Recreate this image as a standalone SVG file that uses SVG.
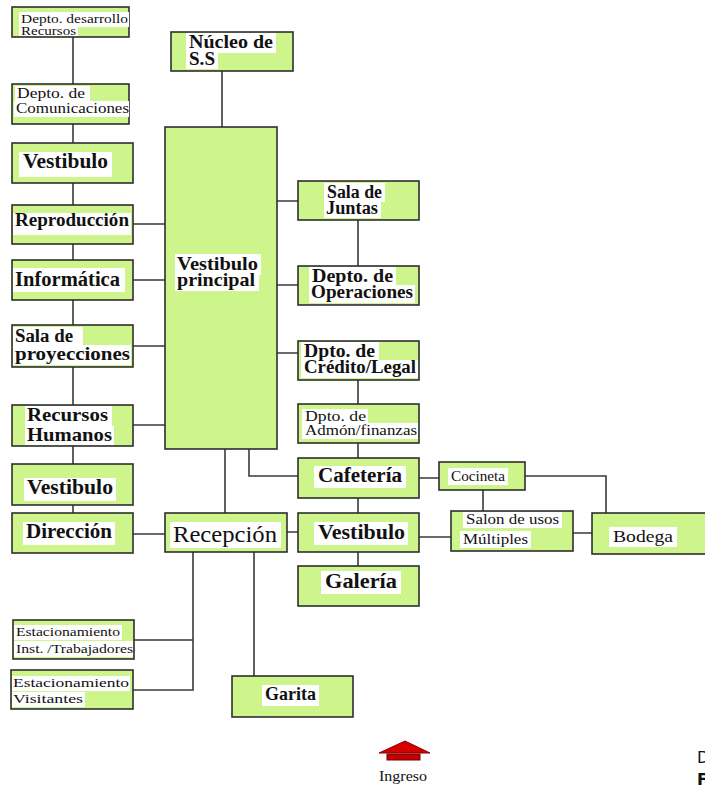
<svg xmlns="http://www.w3.org/2000/svg" width="705" height="786" viewBox="0 0 705 786">
  <style>
    .box { fill: #cdf58c; stroke: #2e2e2e; stroke-width: 1.6; }
    .hl { fill: #ffffff; }
    .ln { fill: none; stroke: #3a3a3a; stroke-width: 1.6; }
    .t { font-family: "Liberation Serif", "Times New Roman", serif; fill: #111; }
    .b { font-weight: bold; }
    .s13 { font-size: 13px; }
    .s14 { font-size: 14px; }
    .s15 { font-size: 15px; }
    .s17 { font-size: 17px; }
    .s18 { font-size: 18px; }
    .s19 { font-size: 19px; }
    .s20 { font-size: 20px; }
    .s23 { font-size: 23px; }
    .note { font-family: "DejaVu Sans", "Liberation Sans", sans-serif; font-size: 16px; fill: #111; }
  </style>
  <rect width="705" height="786" fill="#ffffff"/>

  <g id="connectors">
    <path class="ln" d="M73 37V84 M73 124V143 M73 183V205 M73 244V260 M73 300V325 M73 367V405 M73 446V464 M73 505V513"/>
    <path class="ln" d="M133 224H165 M133 280H165 M133 346H165 M133 425H165 M133 534H165"/>
    <path class="ln" d="M222 71V127 M277 201H298 M277 285H298 M277 353H298"/>
    <path class="ln" d="M358 220V266 M358 380V404 M358 443V458 M358 498V513 M358 552V566"/>
    <path class="ln" d="M249 449V476H298 M225 449V513 M287 532H298"/>
    <path class="ln" d="M419 478H439 M419 537H451 M483 490V511 M525 476H606V513 M573 533H592"/>
    <path class="ln" d="M193 552V690H133 M134 640H193 M254 552V676"/>
  </g>

  <g id="depto-desarrollo">
    <rect class="box" x="12" y="7" width="117" height="30"/>
    <rect class="hl" x="19" y="12" width="110" height="15"/>
    <rect class="hl" x="19" y="25" width="59" height="11"/>
    <text class="t s13" x="21" y="23" textLength="107" lengthAdjust="spacingAndGlyphs">Depto. desarrollo</text>
    <text class="t s13" x="21" y="35" textLength="55" lengthAdjust="spacingAndGlyphs">Recursos</text>
  </g>
  <g id="depto-comunicaciones">
    <rect class="box" x="12" y="84" width="117" height="40"/>
    <rect class="hl" x="15" y="86" width="75" height="16"/>
    <rect class="hl" x="14" y="101" width="115" height="16"/>
    <text class="t s15" x="17" y="98" textLength="68" lengthAdjust="spacingAndGlyphs">Depto. de</text>
    <text class="t s15" x="16" y="113" textLength="113" lengthAdjust="spacingAndGlyphs">Comunicaciones</text>
  </g>
  <g id="vestibulo-1">
    <rect class="box" x="12" y="143" width="121" height="40"/>
    <rect class="hl" x="19" y="152" width="93" height="25"/>
    <text class="t b s20" x="23" y="168" textLength="85" lengthAdjust="spacingAndGlyphs">Vestibulo</text>
  </g>
  <g id="reproduccion">
    <rect class="box" x="12" y="205" width="121" height="39"/>
    <rect class="hl" x="13" y="213" width="118" height="22"/>
    <text class="t b s18" x="15" y="226" textLength="114" lengthAdjust="spacingAndGlyphs">Reproducción</text>
  </g>
  <g id="informatica">
    <rect class="box" x="12" y="260" width="121" height="40"/>
    <rect class="hl" x="13" y="268" width="112" height="24"/>
    <text class="t b s20" x="15" y="286" textLength="105" lengthAdjust="spacingAndGlyphs">Informática</text>
  </g>
  <g id="sala-proyecciones">
    <rect class="box" x="12" y="325" width="121" height="42"/>
    <rect class="hl" x="13" y="327" width="70" height="18"/>
    <rect class="hl" x="13" y="345" width="118" height="20"/>
    <text class="t b s18" x="15" y="342" textLength="58" lengthAdjust="spacingAndGlyphs">Sala de</text>
    <text class="t b s18" x="15" y="360" textLength="115" lengthAdjust="spacingAndGlyphs">proyecciones</text>
  </g>
  <g id="recursos-humanos">
    <rect class="box" x="12" y="405" width="121" height="41"/>
    <rect class="hl" x="25" y="406" width="87" height="20"/>
    <rect class="hl" x="25" y="426" width="89" height="19"/>
    <text class="t b s19" x="27" y="421" textLength="81" lengthAdjust="spacingAndGlyphs">Recursos</text>
    <text class="t b s19" x="27" y="441" textLength="85" lengthAdjust="spacingAndGlyphs">Humanos</text>
  </g>
  <g id="vestibulo-2">
    <rect class="box" x="12" y="464" width="121" height="41"/>
    <rect class="hl" x="24" y="478" width="92" height="23"/>
    <text class="t b s20" x="27" y="494" textLength="86" lengthAdjust="spacingAndGlyphs">Vestibulo</text>
  </g>
  <g id="direccion">
    <rect class="box" x="12" y="513" width="121" height="40"/>
    <rect class="hl" x="23" y="522" width="92" height="23"/>
    <text class="t b s20" x="26" y="538" textLength="86" lengthAdjust="spacingAndGlyphs">Dirección</text>
  </g>

  <g id="nucleo-ss">
    <rect class="box" x="171" y="32" width="122" height="39"/>
    <rect class="hl" x="186" y="33" width="90" height="20"/>
    <rect class="hl" x="186" y="52" width="32" height="17"/>
    <text class="t b s19" x="189" y="48" textLength="84" lengthAdjust="spacingAndGlyphs">Núcleo de</text>
    <text class="t b s19" x="189" y="65" textLength="26" lengthAdjust="spacingAndGlyphs">S.S</text>
  </g>
  <g id="vestibulo-principal">
    <rect class="box" x="165" y="127" width="112" height="322"/>
    <rect class="hl" x="175" y="254" width="86" height="21"/>
    <rect class="hl" x="175" y="272" width="84" height="19"/>
    <text class="t b s19" x="177" y="270" textLength="81" lengthAdjust="spacingAndGlyphs">Vestibulo</text>
    <text class="t b s19" x="177" y="286" textLength="78" lengthAdjust="spacingAndGlyphs">principal</text>
  </g>
  <g id="recepcion">
    <rect class="box" x="165" y="513" width="122" height="39"/>
    <rect class="hl" x="170" y="522" width="111" height="26"/>
    <text class="t s23" x="173" y="542" textLength="104" lengthAdjust="spacingAndGlyphs">Recepción</text>
  </g>

  <g id="sala-juntas">
    <rect class="box" x="298" y="181" width="121" height="39"/>
    <rect class="hl" x="324" y="183" width="61" height="19"/>
    <rect class="hl" x="324" y="201" width="57" height="17"/>
    <text class="t b s18" x="327" y="198" textLength="55" lengthAdjust="spacingAndGlyphs">Sala de</text>
    <text class="t b s18" x="326" y="214" textLength="52" lengthAdjust="spacingAndGlyphs">Juntas</text>
  </g>
  <g id="depto-operaciones">
    <rect class="box" x="298" y="266" width="121" height="39"/>
    <rect class="hl" x="309" y="267" width="87" height="19"/>
    <rect class="hl" x="309" y="285" width="106" height="18"/>
    <text class="t b s18" x="312" y="282" textLength="81" lengthAdjust="spacingAndGlyphs">Depto. de</text>
    <text class="t b s18" x="311" y="298" textLength="102" lengthAdjust="spacingAndGlyphs">Operaciones</text>
  </g>
  <g id="dpto-credito">
    <rect class="box" x="298" y="341" width="121" height="39"/>
    <rect class="hl" x="301" y="342" width="78" height="19"/>
    <rect class="hl" x="301" y="360" width="117" height="18"/>
    <text class="t b s18" x="304" y="357" textLength="71" lengthAdjust="spacingAndGlyphs">Dpto. de</text>
    <text class="t b s18" x="304" y="373" textLength="112" lengthAdjust="spacingAndGlyphs">Crédito/Legal</text>
  </g>
  <g id="dpto-admon">
    <rect class="box" x="298" y="404" width="121" height="39"/>
    <rect class="hl" x="302" y="409" width="66" height="15"/>
    <rect class="hl" x="302" y="423" width="116" height="16"/>
    <text class="t s14" x="305" y="421" textLength="61" lengthAdjust="spacingAndGlyphs">Dpto. de</text>
    <text class="t s14" x="305" y="435" textLength="112" lengthAdjust="spacingAndGlyphs">Admón/finanzas</text>
  </g>
  <g id="cafeteria">
    <rect class="box" x="298" y="458" width="121" height="40"/>
    <rect class="hl" x="314" y="466" width="92" height="22"/>
    <text class="t b s20" x="318" y="482" textLength="84" lengthAdjust="spacingAndGlyphs">Cafetería</text>
  </g>
  <g id="vestibulo-3">
    <rect class="box" x="298" y="513" width="121" height="39"/>
    <rect class="hl" x="314" y="522" width="94" height="23"/>
    <text class="t b s20" x="318" y="539" textLength="87" lengthAdjust="spacingAndGlyphs">Vestibulo</text>
  </g>
  <g id="galeria">
    <rect class="box" x="298" y="566" width="121" height="40"/>
    <rect class="hl" x="321" y="571" width="80" height="23"/>
    <text class="t b s20" x="325" y="588" textLength="72" lengthAdjust="spacingAndGlyphs">Galería</text>
  </g>

  <g id="cocineta">
    <rect class="box" x="439" y="462" width="86" height="28"/>
    <rect class="hl" x="448" y="468" width="60" height="17"/>
    <text class="t s14" x="451" y="481" textLength="54" lengthAdjust="spacingAndGlyphs">Cocineta</text>
  </g>
  <g id="salon-usos-multiples">
    <rect class="box" x="451" y="511" width="122" height="40"/>
    <rect class="hl" x="463" y="512" width="99" height="16"/>
    <rect class="hl" x="460" y="531" width="71" height="17"/>
    <text class="t s15" x="466" y="524" textLength="93" lengthAdjust="spacingAndGlyphs">Salon de usos</text>
    <text class="t s15" x="463" y="544" textLength="65" lengthAdjust="spacingAndGlyphs">Múltiples</text>
  </g>
  <g id="bodega">
    <rect class="box" x="592" y="513" width="120" height="41"/>
    <rect class="hl" x="609" y="527" width="68" height="20"/>
    <text class="t s17" x="613" y="542" textLength="60" lengthAdjust="spacingAndGlyphs">Bodega</text>
  </g>

  <g id="estacionamiento-trabajadores">
    <rect class="box" x="13" y="620" width="121" height="39"/>
    <rect class="hl" x="14" y="625" width="108" height="15"/>
    <rect class="hl" x="14" y="641" width="119" height="16"/>
    <text class="t s13" x="16" y="636" textLength="104" lengthAdjust="spacingAndGlyphs">Estacionamiento</text>
    <text class="t s13" x="16" y="653" textLength="117" lengthAdjust="spacingAndGlyphs">Inst. /Trabajadores</text>
  </g>
  <g id="estacionamiento-visitantes">
    <rect class="box" x="11" y="670" width="122" height="39"/>
    <rect class="hl" x="12" y="676" width="118" height="15"/>
    <rect class="hl" x="12" y="692" width="73" height="15"/>
    <text class="t s13" x="13" y="687" textLength="116" lengthAdjust="spacingAndGlyphs">Estacionamiento</text>
    <text class="t s13" x="13" y="703" textLength="70" lengthAdjust="spacingAndGlyphs">Visitantes</text>
  </g>
  <g id="garita">
    <rect class="box" x="232" y="676" width="121" height="41"/>
    <rect class="hl" x="262" y="685" width="57" height="21"/>
    <text class="t b s19" x="265" y="700" textLength="51" lengthAdjust="spacingAndGlyphs">Garita</text>
  </g>

  <g id="ingreso">
    <polygon points="405,741 430,753 379,753" fill="#d40000" stroke="#8a0000" stroke-width="1"/>
    <rect x="387" y="754" width="33" height="6" fill="#c00000" stroke="#7a0000" stroke-width="1"/>
    <text class="t s14" x="379" y="781" textLength="48" lengthAdjust="spacingAndGlyphs">Ingreso</text>
  </g>

  <text class="note" x="697" y="763">D</text>
  <text class="note" x="697" y="785" font-weight="bold">F</text>
</svg>
